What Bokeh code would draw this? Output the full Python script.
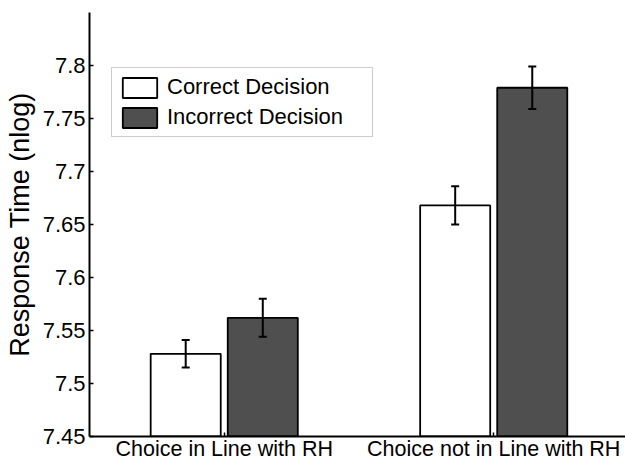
from bokeh.plotting import figure
from bokeh.models import ColumnDataSource, FixedTicker, Whisker, TeeHead, Range1d, Legend, LegendItem
from bokeh.embed import file_html
from bokeh.resources import INLINE

# ---- data ----
categories = ["Choice in Line with RH", "Choice not in Line with RH"]
series_names = ["Correct Decision", "Incorrect Decision"]
correct_means = [7.528, 7.668]
correct_err = [0.013, 0.018]
incorrect_means = [7.562, 7.779]
incorrect_err = [0.018, 0.020]
y_ticks = [7.45, 7.5, 7.55, 7.6, 7.65, 7.7, 7.75, 7.8]
y_tick_labels = ["7.45", "7.5", "7.55", "7.6", "7.65", "7.7", "7.75", "7.8"]

cat_pos = [1, 2]
offset = 0.143
bar_w = 0.26
base = 7.45
FONT = "Liberation Sans"

p = figure(width=625, height=463, output_backend="svg", toolbar_location=None,
           x_range=Range1d(0.5, 2.489), y_range=Range1d(7.45, 7.85),
           min_border_left=89, min_border_right=0, min_border_top=12, min_border_bottom=10)
p.outline_line_color = None
p.xgrid.visible = False
p.ygrid.visible = False
p.background_fill_color = "white"
p.border_fill_color = "white"

src_c = ColumnDataSource(dict(x=[c - offset for c in cat_pos], top=correct_means,
                              upper=[m + e for m, e in zip(correct_means, correct_err)],
                              lower=[m - e for m, e in zip(correct_means, correct_err)]))
src_i = ColumnDataSource(dict(x=[c + offset for c in cat_pos], top=incorrect_means,
                              upper=[m + e for m, e in zip(incorrect_means, incorrect_err)],
                              lower=[m - e for m, e in zip(incorrect_means, incorrect_err)]))

r_c = p.vbar(x="x", top="top", bottom=base, width=bar_w, source=src_c,
             fill_color="white", line_color="black", line_width=1.8)
r_i = p.vbar(x="x", top="top", bottom=base, width=bar_w, source=src_i,
             fill_color="#4f4f4f", line_color="black", line_width=1.8)

for src in (src_c, src_i):
    w = Whisker(base="x", upper="upper", lower="lower", source=src, level="overlay",
                line_color="black", line_width=2,
                upper_head=TeeHead(size=8, line_width=2, line_color="black"),
                lower_head=TeeHead(size=8, line_width=2, line_color="black"))
    p.add_layout(w)

# axes
p.xaxis.ticker = FixedTicker(ticks=cat_pos)
p.xaxis.major_label_overrides = {c: n for c, n in zip(cat_pos, categories)}
p.yaxis.ticker = FixedTicker(ticks=y_ticks)
p.yaxis.major_label_overrides = {t: l for t, l in zip(y_ticks, y_tick_labels)}
for ax in (p.xaxis, p.yaxis):
    ax.axis_line_color = "black"
    ax.axis_line_width = 2
    ax.major_tick_in = 4
    ax.major_tick_out = 0
    ax.major_tick_line_width = 1.5
    ax.major_tick_line_color = "black"
    ax.minor_tick_line_color = None
    ax.major_label_text_font = FONT
    ax.major_label_text_color = "black"
p.xaxis.major_label_text_font_size = "21.5px"
p.yaxis.major_label_text_font_size = "22px"
p.xaxis.major_label_standoff = 0
p.yaxis.major_label_standoff = 4
p.yaxis.axis_label = "Response Time (nlog)"
p.yaxis.axis_label_text_font = FONT
p.yaxis.axis_label_text_font_size = "27px"
p.yaxis.axis_label_text_font_style = "normal"
p.yaxis.axis_label_text_color = "black"
p.yaxis.axis_label_standoff = 5

legend = Legend(items=[LegendItem(label=series_names[0], renderers=[r_c]),
                       LegendItem(label=series_names[1], renderers=[r_i])],
                location=(22, 299), orientation="vertical",
                border_line_color="#999999", border_line_width=1.2,
                background_fill_color="white", background_fill_alpha=1,
                label_text_font=FONT, label_text_font_size="22px", label_text_color="black",
                glyph_width=43, glyph_height=25, label_height=25, label_width=199,
                spacing=4, padding=6, margin=0, label_standoff=6)
p.add_layout(legend)

open("out.html", "w").write(file_html(p, INLINE))
